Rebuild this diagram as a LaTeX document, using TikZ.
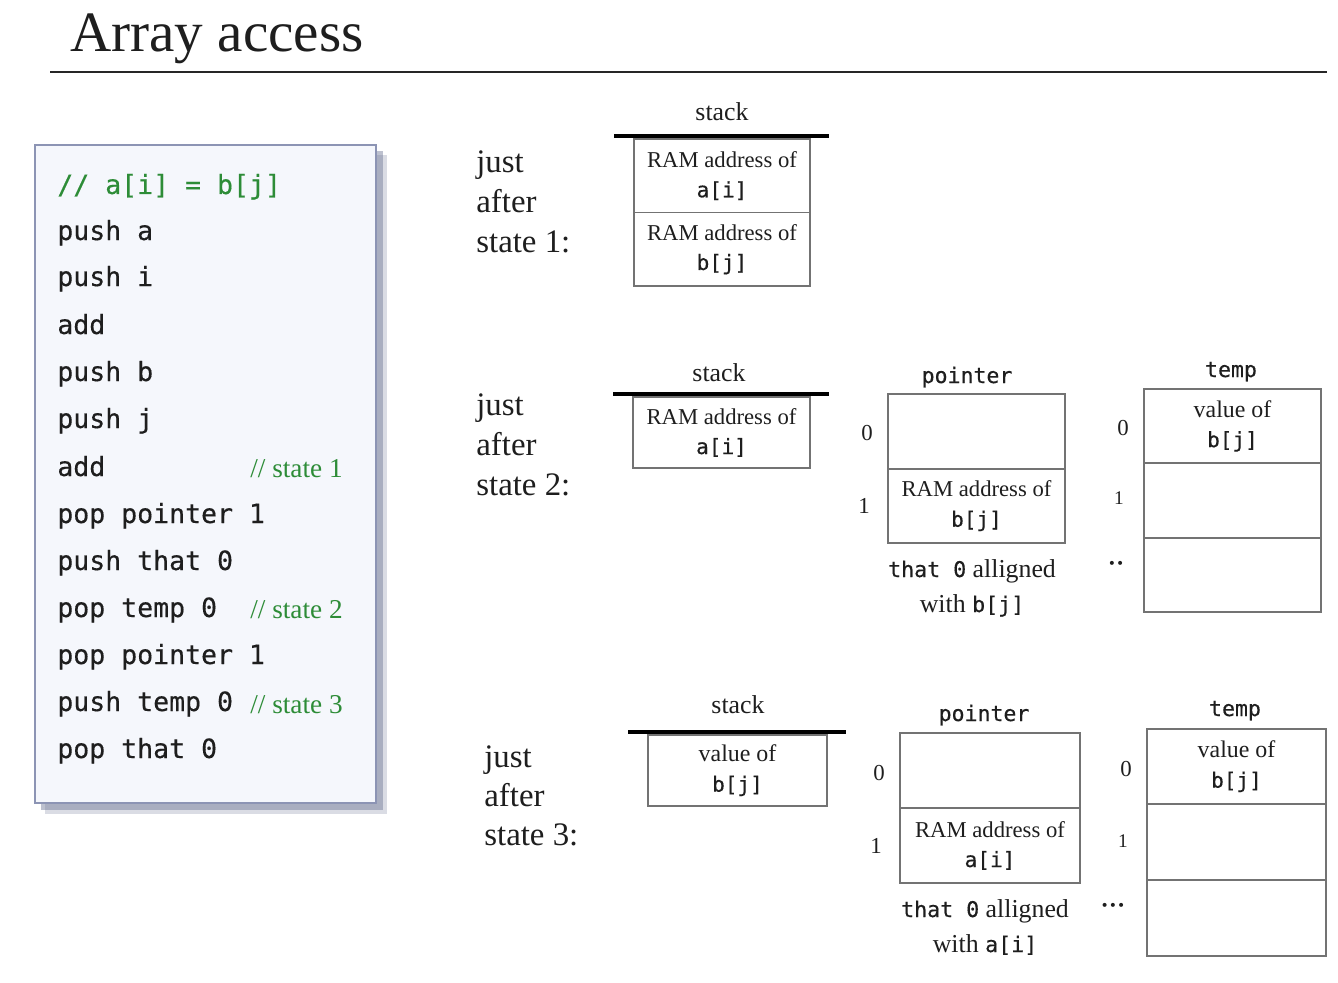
\documentclass[tikz,border=0pt]{standalone}
\usepackage{fontspec}
\setmainfont{Liberation Serif}
\setmonofont{DejaVu Sans Mono}
\newfontfamily\codefont[FakeBold=0.35]{DejaVu Sans Mono}
\definecolor{codegreen}{RGB}{45,140,55}
\definecolor{boxfill}{RGB}{245,247,252}
\definecolor{boxdraw}{RGB}{140,148,180}
\definecolor{shadowc}{RGB}{110,118,150}
\definecolor{cellline}{RGB}{115,115,115}
\definecolor{txt}{RGB}{30,30,30}
\newcommand\mono[1]{{\codefont\fontsize{12}{17}\selectfont #1}}
\newcommand\ramtxt{{\fontsize{12.9}{17}\selectfont RAM address of}}
\newcommand\valtxt{{\fontsize{13.6}{17}\selectfont value of}}
\begin{document}
\begin{tikzpicture}[x=0.02cm,y=-0.02cm,
  every node/.style={text=txt},
  code/.style={anchor=base west, inner sep=0, font=\codefont\fontsize{15.1}{18}\selectfont},
  cmt/.style={anchor=base west, inner sep=0, text=codegreen, font=\fontsize{15.5}{18}\selectfont},
  lbl/.style={anchor=base west, inner sep=0, font=\fontsize{18.7}{22}\selectfont},
  head/.style={anchor=base, inner sep=0, font=\fontsize{14.7}{17}\selectfont},
  mhead/.style={anchor=base, inner sep=0, font=\codefont\fontsize{12.25}{15}\selectfont},
  idx/.style={anchor=base, inner sep=0, font=\fontsize{13}{15}\selectfont},
  note/.style={anchor=base, inner sep=0, font=\fontsize{14.7}{17}\selectfont},
  dots/.style={inner sep=0, font=\bfseries\fontsize{14}{15}\selectfont},
  cell/.style={draw=cellline, line width=1pt, align=center, inner sep=0,
    font=\fontsize{12.9}{17}\selectfont},
  thickbar/.style={line width=2.3pt, black}
]
\useasboundingbox (0,0) rectangle (1338,983);
\fill[white] (0,0) rectangle (1338,983);

% title
\node[anchor=base west, inner sep=0, font=\fontsize{32.5}{36}\selectfont] (title) at (70,52) {Array access};
\draw[line width=1.7pt, black!85] (50,72) -- (1327,72);

% code box
\fill[shadowc, opacity=0.25] (45,155) rectangle (387,814);
\fill[shadowc, opacity=0.45] (41,151) rectangle (383,810);
\node[draw=boxdraw, fill=boxfill, line width=1.2pt, minimum width=6.82cm, minimum height=13.16cm, inner sep=0] (codebox) at (205.5,474) {};

\node[code, text=codegreen] (c0) at (57,194) {// a[i] = b[j]};
\node[code] (c1) at (57,240) {push a};
\node[code] (c2) at (57,286) {push i};
\node[code] (c3) at (57,334) {add};
\node[code] (c4) at (57,381) {push b};
\node[code] (c5) at (57,428) {push j};
\node[code] (c6) at (57,476) {add};
\node[code] (c7) at (57,523) {pop pointer 1};
\node[code] (c8) at (57,570) {push that 0};
\node[code] (c9) at (57,617) {pop temp 0};
\node[code] (c10) at (57,664) {pop pointer 1};
\node[code] (c11) at (57,711) {push temp 0};
\node[code] (c12) at (57,758) {pop that 0};

\node[cmt] (k1) at (250,477) {// state 1};
\node[cmt] (k2) at (250,618) {// state 2};
\node[cmt] (k3) at (250,713) {// state 3};

% state labels
\node[lbl] (l1a) at (476,173) {just};
\node[lbl] (l1b) at (476,213) {after};
\node[lbl] (l1c) at (476,253) {state 1:};
\node[lbl] (l2a) at (476,415) {just};
\node[lbl] (l2b) at (476,455) {after};
\node[lbl] (l2c) at (476,495) {state 2:};
\node[lbl] (l3a) at (484,767) {just};
\node[lbl] (l3b) at (484,806) {after};
\node[lbl] (l3c) at (484,845) {state 3:};

% ---- state 1 stack
\node[head] (st1h) at (722,121) {stack};
\node[cell, minimum width=3.52cm, minimum height=1.47cm] (st1a) at (722,175.75) {\ramtxt\\\mono{a[i]}};
\node[cell, minimum width=3.52cm, minimum height=1.47cm] (st1b) at (722,249.25) {\ramtxt\\\mono{b[j]}};
\draw[thickbar] ([xshift=-0.38cm,yshift=0.05cm]st1a.north west) -- ([xshift=0.36cm,yshift=0.05cm]st1a.north east);

% ---- state 2 stack
\node[head] (st2h) at (719,381) {stack};
\node[cell, minimum width=3.54cm, minimum height=1.42cm] (st2a) at (721.5,432.5) {\ramtxt\\\mono{a[i]}};
\draw[thickbar] ([xshift=-0.38cm,yshift=0.05cm]st2a.north west) -- ([xshift=0.36cm,yshift=0.05cm]st2a.north east);

% ---- state 2 pointer
\node[mhead] (p2h) at (967,383) {pointer};
\node[cell, minimum width=3.54cm, minimum height=1.49cm] (p2a) at (976.5,431.5) {};
\node[cell, minimum width=3.54cm, minimum height=1.49cm] (p2b) at (976.5,506) {\ramtxt\\\mono{b[j]}};
\node[idx] (p2i0) at (867,440) {0};
\node[idx] (p2i1) at (864,513) {1};
\node[note] (p2n1) at (972,577) {\mono{\fontsize{12.3}{15}\selectfont that 0} alligned};
\node[note] (p2n2) at (972,612) {with \mono{\fontsize{12.3}{15}\selectfont b[j]}};

% ---- state 2 temp
\node[mhead] (t2h) at (1231,377) {temp};
\node[cell, minimum width=3.54cm, minimum height=1.49cm] (t2a) at (1232.5,426) {\valtxt\\\mono{b[j]}};
\node[cell, minimum width=3.54cm, minimum height=1.49cm] (t2b) at (1232.5,500.5) {};
\node[cell, minimum width=3.54cm, minimum height=1.49cm] (t2c) at (1232.5,575) {};
\node[idx] (t2i0) at (1123,435) {0};
\node[idx, font=\fontsize{11}{13}\selectfont] (t2i1) at (1119,504) {1};
\node[dots] (t2d) at (1116,566) {··};

% ---- state 3 stack
\node[head] (st3h) at (738,713) {stack};
\node[cell, minimum width=3.58cm, minimum height=1.42cm] (st3a) at (737.5,770.5) {\valtxt\\\mono{b[j]}};
\draw[thickbar] ([xshift=-0.38cm,yshift=0.05cm]st3a.north west) -- ([xshift=0.36cm,yshift=0.05cm]st3a.north east);

% ---- state 3 pointer
\node[mhead] (p3h) at (984,721) {pointer};
\node[cell, minimum width=3.6cm, minimum height=1.5cm] (p3a) at (990,770.5) {};
\node[cell, minimum width=3.6cm, minimum height=1.5cm] (p3b) at (990,845.5) {\ramtxt\\\mono{a[i]}};
\node[idx] (p3i0) at (879,780) {0};
\node[idx] (p3i1) at (876,853) {1};
\node[note] (p3n1) at (985,917) {\mono{\fontsize{12.3}{15}\selectfont that 0} alligned};
\node[note] (p3n2) at (985,952) {with \mono{\fontsize{12.3}{15}\selectfont a[i]}};

% ---- state 3 temp
\node[mhead] (t3h) at (1235,716) {temp};
\node[cell, minimum width=3.58cm, minimum height=1.51cm] (t3a) at (1236.5,766.5) {\valtxt\\\mono{b[j]}};
\node[cell, minimum width=3.58cm, minimum height=1.51cm] (t3b) at (1236.5,842) {};
\node[cell, minimum width=3.58cm, minimum height=1.51cm] (t3c) at (1236.5,918) {};
\node[idx] (t3i0) at (1126,776) {0};
\node[idx, font=\fontsize{11}{13}\selectfont] (t3i1) at (1123,847) {1};
\node[dots] (t3d) at (1113,908) {···};
\end{tikzpicture}
\end{document}
